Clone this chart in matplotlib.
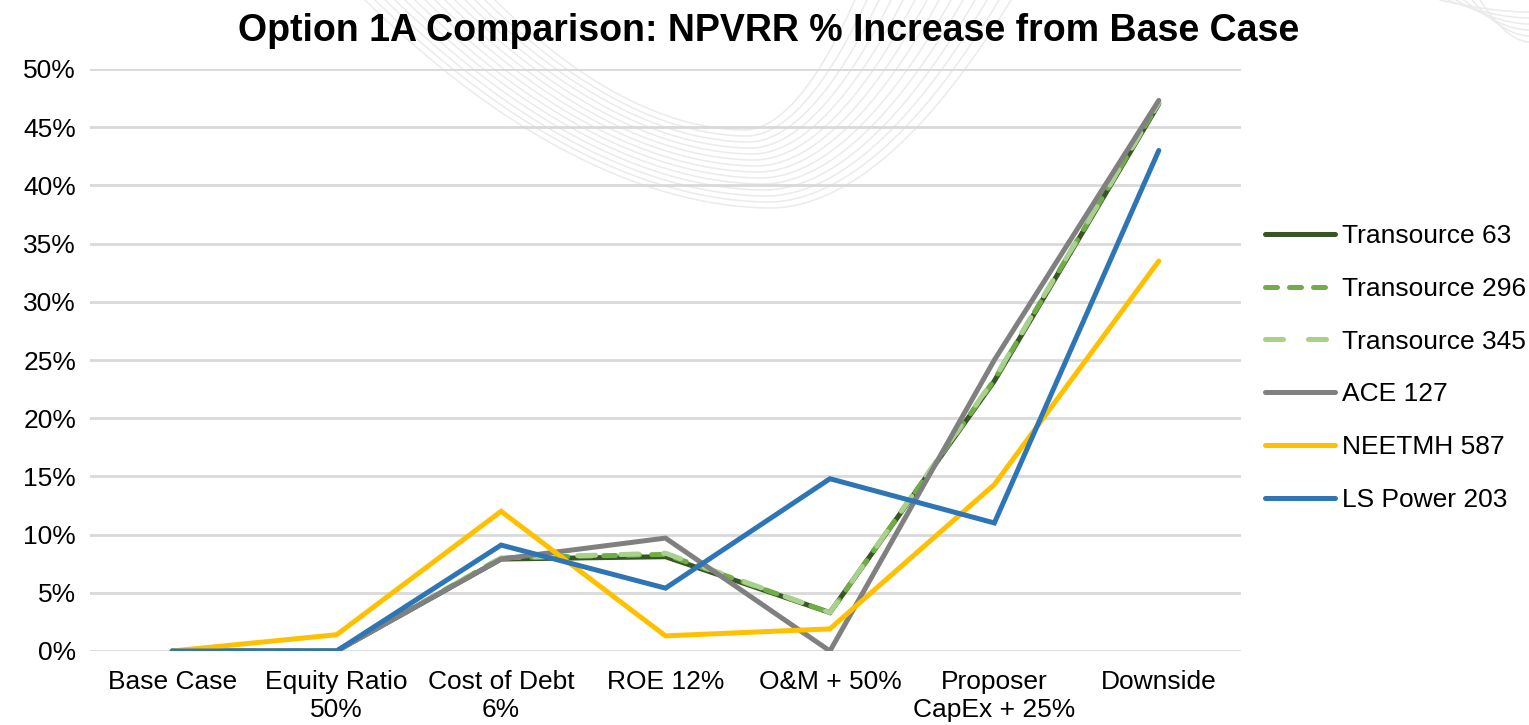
import numpy as np
import matplotlib.pyplot as plt
from matplotlib.ticker import FuncFormatter

plt.rcParams['font.family'] = ['Liberation Sans', 'DejaVu Sans']

# --datos
categories = ['Base Case', 'Equity Ratio\n50%', 'Cost of Debt\n6%', 'ROE 12%',
              'O&M + 50%', 'Proposer\nCapEx + 25%', 'Downside']
transource_63 = [0, 0, 7.9, 8.1, 3.3, 23.2, 47.0]
transource_296 = [0, 0, 8.0, 8.3, 3.3, 23.3, 47.1]
transource_345 = [0, 0, 8.0, 8.4, 3.3, 23.4, 47.1]
ace_127 = [0, 0, 7.9, 9.7, 0, 25.0, 47.3]
neetmh_587 = [0, 1.4, 12.0, 1.3, 1.9, 14.3, 33.5]
ls_power_203 = [0, 0, 9.1, 5.4, 14.8, 11.0, 43.0]

series = [
    ('Transource 63', transource_63, '#375623', None),
    ('Transource 296', transource_296, '#70AD47', (2.4, 2.4)),
    ('Transource 345', transource_345, '#A9D18E', (3.6, 5.0)),
    ('ACE 127', ace_127, '#808080', None),
    ('NEETMH 587', neetmh_587, '#FFC000', None),
    ('LS Power 203', ls_power_203, '#2E75B6', None),
]

fig = plt.figure(figsize=(15.29, 7.25), dpi=100)

# --fondo decorativo (arcos tenues de la plantilla)
bg = fig.add_axes([0, 0, 1, 1], zorder=-1)
bg.set_xlim(0, 1529)
bg.set_ylim(725, 0)
bg.axis('off')
for k in range(14):
    bx = 745 + k * 2
    by = 130 + k * 6
    L = 250 + k * 12
    R = 110 + k * 10
    xl = np.linspace(bx - L, bx, 80)
    xr = np.linspace(bx, bx + R, 80)
    xs = np.concatenate([xl, xr])
    u = np.concatenate([(bx - xl) / L, (xr - bx) / R])
    ys = by * (1 - u ** 1.9)
    bg.plot(xs, ys, color='#EBEBEB', lw=1.1)
for k in range(6):
    xs = np.linspace(1440 + k * 8, 1529, 60)
    u = (1529 - xs) / (1529 - 1440 - k * 8)
    bg.plot(xs, (12 + k * 6) * (1 - u ** 1.8), color='#EBEBEB', lw=1.1)

ax = fig.add_axes([90 / 1529, 1 - 651 / 725, (1241 - 90) / 1529, (651 - 69) / 725])
ax.patch.set_alpha(0)
x = np.arange(len(categories))
for name, vals, col, dashes in series:
    line, = ax.plot(x, vals, color=col, lw=3.6, label=name, solid_capstyle='round',
                    dash_capstyle='round', solid_joinstyle='miter')
    if dashes:
        line.set_dashes(dashes)

ax.set_xlim(-0.5, 6.5)
ax.set_ylim(0, 50)
ax.set_yticks(np.arange(0, 51, 5))
ax.yaxis.set_major_formatter(FuncFormatter(lambda v, p: f'{v:.0f}%'))
ax.set_xticks(x)
ax.set_xticklabels(categories, fontsize=19, linespacing=1.18)
ax.tick_params(axis='y', labelsize=19, length=0, pad=10)
ax.tick_params(axis='x', length=0, pad=14)
ax.grid(axis='y', color='#D9D9D9', lw=2)
ax.set_axisbelow(True)
for s in ax.spines.values():
    s.set_visible(False)

fig.text(769 / 1529, 1 - 31 / 725, 'Option 1A Comparison: NPVRR % Increase from Base Case',
         ha='center', va='center', fontsize=27, fontweight='bold')

fig.legend(loc='center left', bbox_to_anchor=(1265 / 1529, 1 - 368 / 725), frameon=False,
           fontsize=19, handlelength=2.65, handletextpad=0.27, labelspacing=1.09,
           borderpad=0, borderaxespad=0)

plt.savefig('out.png', dpi=100)
